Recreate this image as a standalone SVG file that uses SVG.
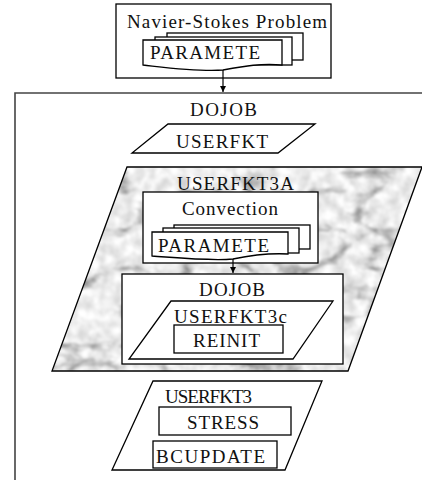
<svg xmlns="http://www.w3.org/2000/svg" width="422" height="480" viewBox="0 0 422 480">
  <style>
    .box { fill: #ffffff; stroke: #000000; stroke-width: 1.3; }
    .frame { fill: none; stroke: #444444; stroke-width: 1.6; }
    .lbl { font-family: "Liberation Serif", "Times New Roman", serif; font-size: 19px; fill: #111111; }
    .edge { fill: none; stroke: #000000; stroke-width: 1.2; }
  </style>
  <defs>
    <marker id="arrow" viewBox="0 0 10 10" refX="10" refY="5" markerWidth="6" markerHeight="6" orient="auto" markerUnits="userSpaceOnUse">
      <path d="M0,0 L10,5 L0,10 Z" fill="#000000"/>
    </marker>
    <!-- marble texture: soft veins times cloudy mottling, clipped to the shape -->
    <filter id="marble" x="0" y="0" width="100%" height="100%" color-interpolation-filters="sRGB">
      <feTurbulence type="turbulence" baseFrequency="0.016 0.026" numOctaves="4" seed="11" result="veins"/>
      <feColorMatrix in="veins" type="matrix" values="1.5 0 0 0 0.6  1.5 0 0 0 0.6  1.5 0 0 0 0.6  0 0 0 0 1" result="veinTone"/>
      <feTurbulence type="fractalNoise" baseFrequency="0.09" numOctaves="3" seed="3" result="cloud"/>
      <feColorMatrix in="cloud" type="matrix" values="0.3 0 0 0 0.78  0.3 0 0 0 0.78  0.3 0 0 0 0.78  0 0 0 0 1" result="cloudTone"/>
      <feBlend in="veinTone" in2="cloudTone" mode="multiply" result="stone"/>
      <feGaussianBlur in="stone" stdDeviation="1.1" result="soft"/>
      <feComposite in="soft" in2="SourceAlpha" operator="in"/>
    </filter>
  </defs>

  <!-- outer DOJOB frame -->
  <g id="dojob-main">
    <path class="frame" d="M15,484 V93 H426"/>
    <text class="lbl" x="190" y="116" textLength="67" lengthAdjust="spacing">DOJOB</text>
  </g>

  <g id="problem">
    <rect class="box" x="116" y="4" width="215" height="74"/>
    <text class="lbl" x="127" y="28" textLength="200" lengthAdjust="spacing">Navier-Stokes Problem</text>
    <g id="parameters-top">
      <rect class="box" x="167" y="33" width="136" height="27"/>
      <rect class="box" x="155" y="37" width="137" height="28"/>
      <path class="box" d="M143,40 H282 V65 C262,63 245,66 223,70 C200,72 170,68 143,65 Z"/>
      <text class="lbl" x="150" y="59" textLength="110" lengthAdjust="spacing">PARAMETE</text>
    </g>
  </g>

  <g id="userfkt">
    <path class="box" d="M168,124 H315 L278,153 H132 Z"/>
    <text class="lbl" x="176" y="148" textLength="92" lengthAdjust="spacing">USERFKT</text>
  </g>

  <g id="userfkt3a">
    <path d="M127,167 H422 L348,371 H52 Z" fill="#ffffff" filter="url(#marble)"/>
    <path d="M127,167 H422 L348,371 H52 Z" fill="none" stroke="#000000" stroke-width="1.3"/>
    <text class="lbl" x="177" y="190" textLength="117" lengthAdjust="spacing">USERFKT3A</text>
  </g>

  <g id="convection">
    <rect class="box" x="143" y="192" width="175" height="71"/>
    <text class="lbl" x="182" y="215" textLength="96" lengthAdjust="spacing">Convection</text>
    <g id="parameters-inner">
      <rect class="box" x="174" y="225" width="136" height="24"/>
      <rect class="box" x="163" y="228" width="136" height="25"/>
      <path class="box" d="M152,232 H288 V254 C270,253 252,255 233,259 C210,261 180,258 152,256 Z"/>
      <text class="lbl" x="158" y="252" textLength="111" lengthAdjust="spacing">PARAMETE</text>
    </g>
  </g>

  <g id="dojob-inner">
    <rect class="box" x="122" y="274" width="221" height="90"/>
    <text class="lbl" x="199" y="296" textLength="66" lengthAdjust="spacing">DOJOB</text>
  </g>

  <g id="userfkt3c">
    <path class="box" d="M171,301 H333 L293,359 H129 Z"/>
    <text class="lbl" x="174" y="323" textLength="113" lengthAdjust="spacing">USERFKT3c</text>
  </g>

  <g id="reinit">
    <rect class="box" x="174" y="325" width="109" height="28"/>
    <text class="lbl" x="193" y="347" textLength="67" lengthAdjust="spacing">REINIT</text>
  </g>

  <g id="userfkt3">
    <path class="box" d="M153,381 H322 L285,470 H112 Z"/>
    <text class="lbl" x="165" y="403" textLength="87" lengthAdjust="spacing">USERFKT3</text>
  </g>

  <g id="stress">
    <rect class="box" x="159" y="407" width="132" height="28"/>
    <text class="lbl" x="187" y="429" textLength="72" lengthAdjust="spacing">STRESS</text>
  </g>

  <g id="bcupdate">
    <rect class="box" x="153" y="441" width="124" height="27"/>
    <text class="lbl" x="156" y="463" textLength="109" lengthAdjust="spacing">BCUPDATE</text>
  </g>

  <g id="connectors">
    <path class="edge" d="M223,70 V92" marker-end="url(#arrow)"/>
    <path class="edge" d="M233,259 V273" marker-end="url(#arrow)"/>
  </g>
</svg>
